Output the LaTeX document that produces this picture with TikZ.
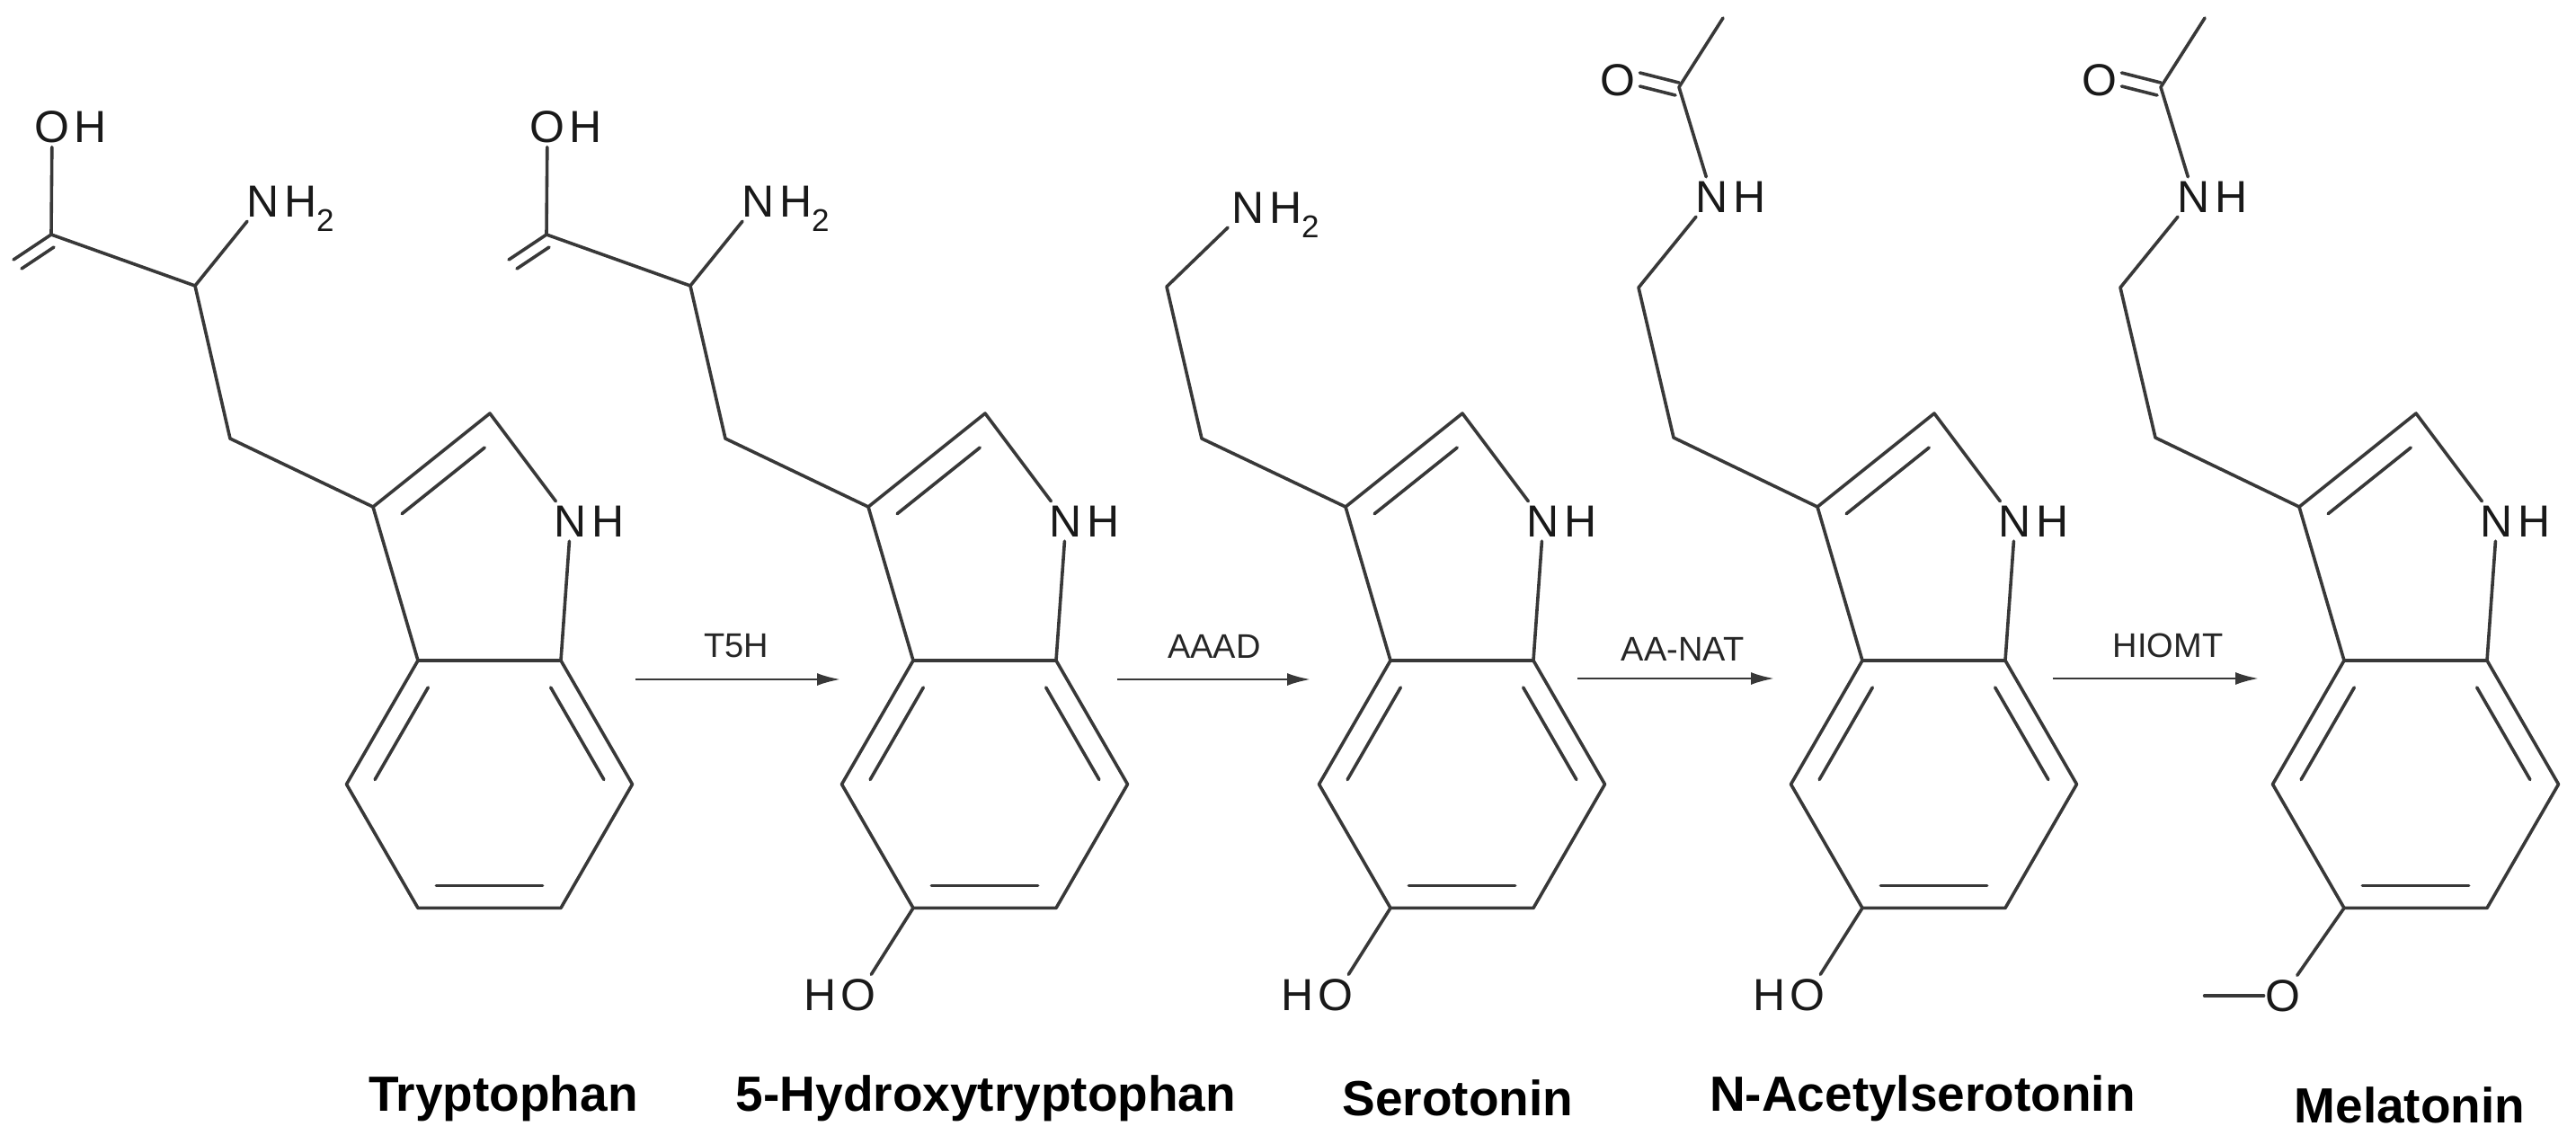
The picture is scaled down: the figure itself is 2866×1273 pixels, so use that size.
\documentclass[tikz,border=0pt]{standalone}
\usepackage{fontspec}
\setmainfont{Liberation Sans}
\usetikzlibrary{calc,arrows.meta}
\definecolor{bondc}{HTML}{383838}
\tikzset{
  bond/.style={line width=3.6pt, draw=bondc, line cap=round, line join=round},
  inner/.style={bond, shorten <=6pt, shorten >=6pt},
  atom/.style={font=\fontsize{50}{50}\selectfont, inner sep=5pt, outer sep=0pt, text=black!90},
  atomR/.style={atom, anchor=base west, xshift=-5pt},
  atomL/.style={atom, anchor=base east, xshift=5pt},
  enz/.style={font=\fontsize{38}{38}\selectfont, text=black!85, inner sep=0pt},
  rxn/.style={line width=2.6pt, draw=bondc, -{Latex[length=26pt,width=14pt]}},
  cname/.style={font=\bfseries\fontsize{55}{55}\selectfont, inner sep=0pt}
}
% #1 prefix, #2 x of C3a, #3 extra code (same frame)
\newcommand\indolemol[3]{%
\begin{scope}[shift={(#2,735)}]
  \coordinate (#1a) at (0,0);
  \coordinate (#1b) at (159,0);
  \coordinate (#1c7) at (238.5,137.7);
  \coordinate (#1c6) at (159,275.4);
  \coordinate (#1c5) at (0,275.4);
  \coordinate (#1c4) at (-79.5,137.7);
  \coordinate (#1c3) at (-50,-171);
  \coordinate (#1c2) at (80,-275);
  \coordinate (#1bc) at (79.5,137.7);
  \coordinate (#1pc) at (75,-119);
  \node[atom] (#1n1) at (170,-155) {N};
  \node[atomR] at (#1n1.base east) {H};
  \draw[bond] (#1a)--(#1b)--(#1c7)--(#1c6)--(#1c5)--(#1c4)--cycle;
  \draw[bond] (#1a)--(#1c3)--(#1c2)--(#1n1)--(#1b);
  \draw[inner] ($(#1a)!0.18!(#1bc)$) -- ($(#1c4)!0.18!(#1bc)$);
  \draw[inner] ($(#1c5)!0.18!(#1bc)$) -- ($(#1c6)!0.18!(#1bc)$);
  \draw[inner] ($(#1c7)!0.18!(#1bc)$) -- ($(#1b)!0.18!(#1bc)$);
  \draw[inner] ($(#1c3)!0.22!(#1pc)$) -- ($(#1c2)!0.22!(#1pc)$);
  #3
\end{scope}}
\begin{document}
\begin{tikzpicture}[x=1pt,y=-1pt]
\useasboundingbox[fill=white] (0,0) rectangle (2866,1273);

% Tryptophan
\indolemol{t}{465}{
  \coordinate (tch) at (-209,-247);
  \coordinate (tca) at (-248,-417);
  \coordinate (tcc) at (-408,-474);
  \node[atom] (tn) at (-172,-511) {N};
  \node[atomR] at (tn.base east) {H\textsubscript{2}};
  \node[atom] (to) at (-407,-594) {O};
  \node[atomR] at (to.base east) {H};
  \draw[bond] (tc3)--(tch)--(tca)--(tcc)--(to);
  \draw[bond] (tca)--(tn);
  \draw[bond] (tcc) -- ++(-42,28);
  \draw[bond] ($(tcc)+(3,14)$) -- ++(-36,24);
}
% 5-Hydroxytryptophan
\indolemol{h}{1016}{
  \coordinate (hch) at (-209,-247);
  \coordinate (hca) at (-248,-417);
  \coordinate (hcc) at (-408,-474);
  \node[atom] (hn) at (-172,-511) {N};
  \node[atomR] at (hn.base east) {H\textsubscript{2}};
  \node[atom] (ho) at (-407,-594) {O};
  \node[atomR] at (ho.base east) {H};
  \draw[bond] (hc3)--(hch)--(hca)--(hcc)--(ho);
  \draw[bond] (hca)--(hn);
  \draw[bond] (hcc) -- ++(-42,28);
  \draw[bond] ($(hcc)+(3,14)$) -- ++(-36,24);
  \node[atom] (hoh) at (-61,372) {O};
  \node[atomL] at (hoh.base west) {H};
  \draw[bond] (hc5)--(hoh);
}
% Serotonin
\indolemol{s}{1547}{
  \coordinate (sch) at (-210,-247);
  \coordinate (sca) at (-249,-416);
  \node[atom] (sn) at (-158,-504) {N};
  \node[atomR] at (sn.base east) {H\textsubscript{2}};
  \draw[bond] (sc3)--(sch)--(sca)--(sn);
  \node[atom] (soh) at (-61,372) {O};
  \node[atomL] at (soh.base west) {H};
  \draw[bond] (sc5)--(soh);
}
% N-Acetylserotonin
\indolemol{a}{2072}{
  \coordinate (ach) at (-210,-248);
  \coordinate (aca) at (-249,-415);
  \coordinate (acc) at (-204,-638);
  \coordinate (ame) at (-155,-715);
  \node[atom] (an) at (-167,-516) {N};
  \node[atomR] at (an.base east) {H};
  \node[atom] (ao) at (-272,-646) {O};
  \draw[bond] (ac3)--(ach)--(aca)--(an)--(acc)--(ame);
  \draw[bond] ($(acc)+(0,-5)$) -- ($(ao.east)+(0,-8)$);
  \draw[bond] ($(acc)+(-4,9)$) -- ($(ao.east)+(0,7)$);
  \node[atom] (aoh) at (-61,372) {O};
  \node[atomL] at (aoh.base west) {H};
  \draw[bond] (ac5)--(aoh);
}
% Melatonin
\indolemol{m}{2608}{
  \coordinate (mch) at (-210,-248);
  \coordinate (mca) at (-249,-415);
  \coordinate (mcc) at (-204,-638);
  \coordinate (mme) at (-155,-715);
  \node[atom] (mn) at (-167,-516) {N};
  \node[atomR] at (mn.base east) {H};
  \node[atom] (mo) at (-272,-646) {O};
  \draw[bond] (mc3)--(mch)--(mca)--(mn)--(mcc)--(mme);
  \draw[bond] ($(mcc)+(0,-5)$) -- ($(mo.east)+(0,-8)$);
  \draw[bond] ($(mcc)+(-4,9)$) -- ($(mo.east)+(0,7)$);
  \node[atom] (mom) at (-68,373) {O};
  \draw[bond] (mc5)--(mom);
  \draw[bond] ($(mom.west)+(3,0)$) -- ++(-66,0);
}

% reaction arrows
\coordinate (r1s) at (707,756);  \coordinate (r1e) at (935,756);
\coordinate (r2s) at (1243,756); \coordinate (r2e) at (1458,756);
\coordinate (r3s) at (1755,755); \coordinate (r3e) at (1974,755);
\coordinate (r4s) at (2284,755); \coordinate (r4e) at (2513,755);
\draw[rxn] (r1s) -- (r1e);
\draw[rxn] (r2s) -- (r2e);
\draw[rxn] (r3s) -- (r3e);
\draw[rxn] (r4s) -- (r4e);
\node[enz] (e1) at (819,719) {T5H};
\node[enz] (e2) at (1351,719) {AAAD};
\node[enz] (e3) at (1872,722) {AA-NAT};
\node[enz] (e4) at (2412,718) {HIOMT};

% names
\node[cname] (n1) at (560,1222) {Tryptophan};
\node[cname] (n2) at (1097,1222) {5-Hydroxytryptophan};
\node[cname] (n3) at (1622,1222) {Serotonin};
\node[cname] (n4) at (2139,1222) {N-Acetylserotonin};
\node[cname] (n5) at (2681,1230) {Melatonin};
\end{tikzpicture}
\end{document}
